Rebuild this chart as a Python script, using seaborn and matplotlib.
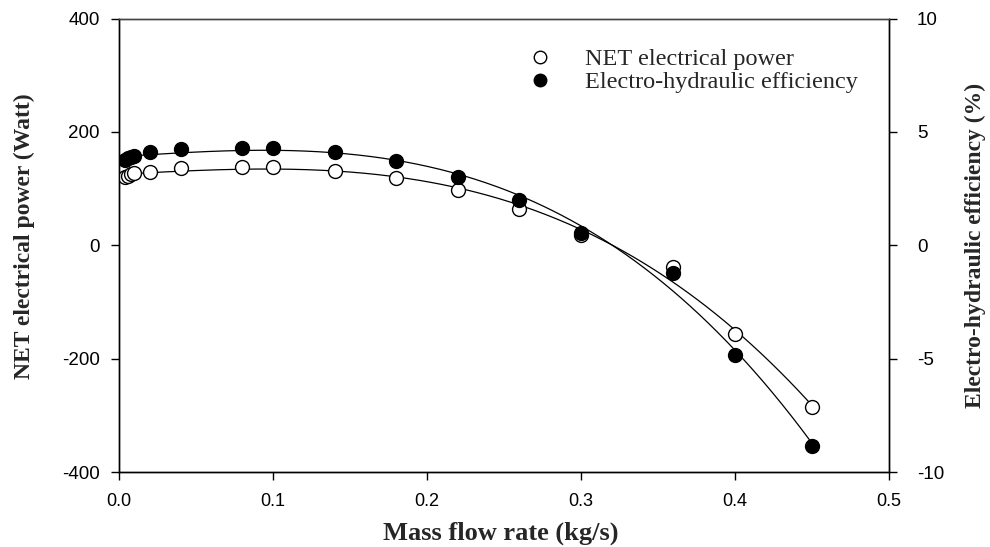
import numpy as np
import pandas as pd
import matplotlib
matplotlib.use("Agg")
import matplotlib.pyplot as plt
import seaborn as sns
from matplotlib.lines import Line2D

# ---- data ----
mass_flow = [0.004, 0.006, 0.008, 0.010, 0.02, 0.04, 0.08, 0.10, 0.14, 0.18,
             0.22, 0.26, 0.30, 0.36, 0.40, 0.45]
net_power = [121, 123, 125, 127, 130, 137, 139, 138, 131, 119,
             97, 64, 19, -39, -157, -286]
efficiency = [3.75, 3.85, 3.9, 3.95, 4.1, 4.25, 4.3, 4.3, 4.1, 3.7,
              3.0, 2.0, 0.54, -1.2, -4.85, -8.85]

x_ticks = [0.0, 0.1, 0.2, 0.3, 0.4, 0.5]
y1_ticks = [-400, -200, 0, 200, 400]
y2_ticks = [-10, -5, 0, 5, 10]

sns.set_theme(style="white")
plt.rcParams["axes.unicode_minus"] = False
plt.rcParams["font.family"] = ["Liberation Sans", "DejaVu Sans"]

df = pd.DataFrame({"x": mass_flow, "p": net_power, "e": efficiency})

# polynomial regression curves (as in the original fitted lines)
xf = np.linspace(min(mass_flow), max(mass_flow), 300)
cp = np.polyfit(df["x"], df["p"], 3)
ce = np.polyfit(df["x"], df["e"], 3)
fit = pd.DataFrame({"x": xf, "p": np.polyval(cp, xf), "e": np.polyval(ce, xf)})

fig = plt.figure(figsize=(9.9, 5.47), dpi=100)
ax = fig.add_axes([0.1202, 0.137, 0.7778, 0.829])
ax2 = ax.twinx()

sns.lineplot(data=fit, x="x", y="p", ax=ax, color="black", lw=0.9, zorder=1)
sns.lineplot(data=fit, x="x", y="e", ax=ax2, color="black", lw=0.9, zorder=1)
sns.scatterplot(data=df, x="x", y="p", ax=ax, s=100, facecolor="white",
                edgecolor="black", linewidth=1.0, zorder=3)
sns.scatterplot(data=df, x="x", y="e", ax=ax2, s=100, color="black",
                edgecolor="black", linewidth=1.0, zorder=3)

ax.set_xlim(0, 0.5)
ax.set_ylim(-400, 400)
ax2.set_ylim(-10, 10)
ax.set_xticks(x_ticks)
ax.set_xticklabels([f"{v:.1f}" for v in x_ticks])
ax.set_yticks(y1_ticks)
ax.set_yticklabels([str(v) for v in y1_ticks])
ax2.set_yticks(y2_ticks)
ax2.set_yticklabels([str(v) for v in y2_ticks])

for a in (ax, ax2):
    for s in ("left", "right", "bottom", "top"):
        a.spines[s].set_visible(True)
        a.spines[s].set_color("black")
        a.spines[s].set_linewidth(1.0)
    a.spines["top"].set_color("#444444")
    a.tick_params(direction="out", length=6, width=1, color="black",
                  labelcolor="black")
    a.grid(False)
ax.tick_params(axis="x", bottom=True, pad=9, labelsize=13)
ax.tick_params(axis="y", left=True, pad=8, labelsize=13.5)
ax2.tick_params(axis="y", right=True, pad=14, labelsize=13.5)

serif = ["Liberation Serif", "DejaVu Serif"]
ax.set_xlabel("")
ax.set_ylabel("")
ax2.set_ylabel("")
fig.text(501 / 990, 1 - 533 / 547, "Mass flow rate (kg/s)", family=serif,
         weight="bold", fontsize=19, ha="center", va="center")
fig.text(24 / 990, 1 - 236 / 547, "NET electrical power (Watt)", family=serif,
         weight="bold", fontsize=17, ha="center", va="center", rotation=90)
fig.text(975 / 990, 1 - 245 / 547, "Electro-hydraulic efficiency (%)", family=serif,
         weight="bold", fontsize=17, ha="center", va="center", rotation=90)

handles = [
    Line2D([], [], ls="none", marker="o", markersize=9, markerfacecolor="white",
           markeredgecolor="black", markeredgewidth=1.0),
    Line2D([], [], ls="none", marker="o", markersize=9, markerfacecolor="black",
           markeredgecolor="black", markeredgewidth=1.0),
]
ax2.legend(handles, ["NET electrical power", "Electro-hydraulic efficiency"],
           loc="upper left", bbox_to_anchor=(516 / 990, 1 - 36 / 547),
           bbox_transform=fig.transFigure, frameon=False,
           prop={"family": serif, "size": 17.5}, handletextpad=1.35,
           labelspacing=0.05, borderpad=0, handlelength=1.0)

fig.savefig("out.png", dpi=100)
